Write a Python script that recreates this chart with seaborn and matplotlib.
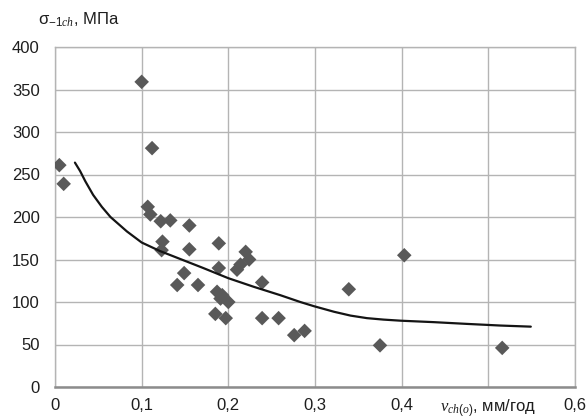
import matplotlib
matplotlib.use("Agg")
import matplotlib.pyplot as plt
import seaborn as sns
import pandas as pd

# Measured points: corrosion rate (mm/year) vs. endurance limit (MPa)
rate = [0.005, 0.010, 0.100, 0.112, 0.107, 0.110, 0.122, 0.133, 0.155, 0.124,
        0.123, 0.155, 0.149, 0.141, 0.165, 0.189, 0.189, 0.187, 0.191, 0.200,
        0.185, 0.197, 0.193, 0.210, 0.214, 0.220, 0.224, 0.239, 0.239, 0.258,
        0.276, 0.288, 0.339, 0.375, 0.403, 0.516]
sigma = [261, 239, 359, 281, 212, 203, 195, 196, 190, 171,
         161, 162, 134, 120, 120, 169, 140, 112, 104, 100,
         86, 81, 108, 138, 144, 159, 150, 123, 81, 81,
         61, 66, 115, 49, 155, 46]

# Trend line
trend_rate = [0.023, 0.029, 0.035, 0.044, 0.054, 0.064, 0.083, 0.100, 0.121, 0.141,
              0.171, 0.200, 0.229, 0.260, 0.283, 0.299, 0.322, 0.341, 0.360, 0.379,
              0.399, 0.437, 0.476, 0.514, 0.549]
trend_sigma = [264, 254, 242, 226, 212, 200, 183, 170, 160, 152,
               140, 128, 118, 108, 100, 95, 88.5, 84, 81, 79.3,
               78, 76.3, 74.2, 72.3, 71]

x_ticks = [0, 0.1, 0.2, 0.3, 0.4, 0.5, 0.6]
x_tick_labels = ["0", "0,1", "0,2", "0,3", "0,4", r"$v_{ch(o)}$, мм/год", "0,6"]
y_ticks = [0, 50, 100, 150, 200, 250, 300, 350, 400]
y_tick_labels = ["0", "50", "100", "150", "200", "250", "300", "350", "400"]

sns.set_theme(style="white")
plt.rcParams["font.family"] = ["Liberation Sans", "DejaVu Sans"]
plt.rcParams["mathtext.fontset"] = "custom"
plt.rcParams["mathtext.it"] = "Liberation Serif:italic"
plt.rcParams["mathtext.rm"] = "Liberation Sans"

points = pd.DataFrame({"rate": rate, "sigma": sigma})
trend = pd.DataFrame({"rate": trend_rate, "sigma": trend_sigma})

fig = plt.figure(figsize=(5.88, 4.2), dpi=100)
ax = fig.add_axes([55 / 588, 1 - 387 / 420, 520 / 588, 340 / 420])

sns.scatterplot(data=points, x="rate", y="sigma", ax=ax, marker="D", s=55,
                color="#595959", edgecolor="none", zorder=3)
sns.lineplot(data=trend, x="rate", y="sigma", ax=ax, sort=False, estimator=None,
             color="#141414", linewidth=1.6, zorder=4)

ax.set_xlim(0, 0.6)
ax.set_ylim(0, 400)
ax.set_xticks(x_ticks)
ax.set_xticklabels(x_tick_labels, fontsize=12, color="#1e1e1e")
ax.set_yticks(y_ticks)
ax.set_yticklabels(y_tick_labels, fontsize=12, color="#1e1e1e")
ax.set_xlabel("")
ax.set_ylabel("")

ax.grid(True, color="#b4b4b4", linewidth=1.0)
ax.set_axisbelow(True)
for side in ("top", "right", "left"):
    ax.spines[side].set_color("#b4b4b4")
    ax.spines[side].set_linewidth(1.0)
ax.spines["bottom"].set_color("#8c8c8c")
ax.spines["bottom"].set_linewidth(1.8)

ax.tick_params(axis="x", direction="out", length=4, width=1, color="#8c8c8c", pad=4)
ax.tick_params(axis="y", direction="out", length=3, width=1, color="#b4b4b4", pad=8)

fig.text(38 / 588, 1 - 20 / 420, r"σ$_{-1ch}$, МПа", fontsize=12, color="#1e1e1e",
         ha="left", va="center")

fig.savefig("out.png", dpi=100, facecolor="white")
